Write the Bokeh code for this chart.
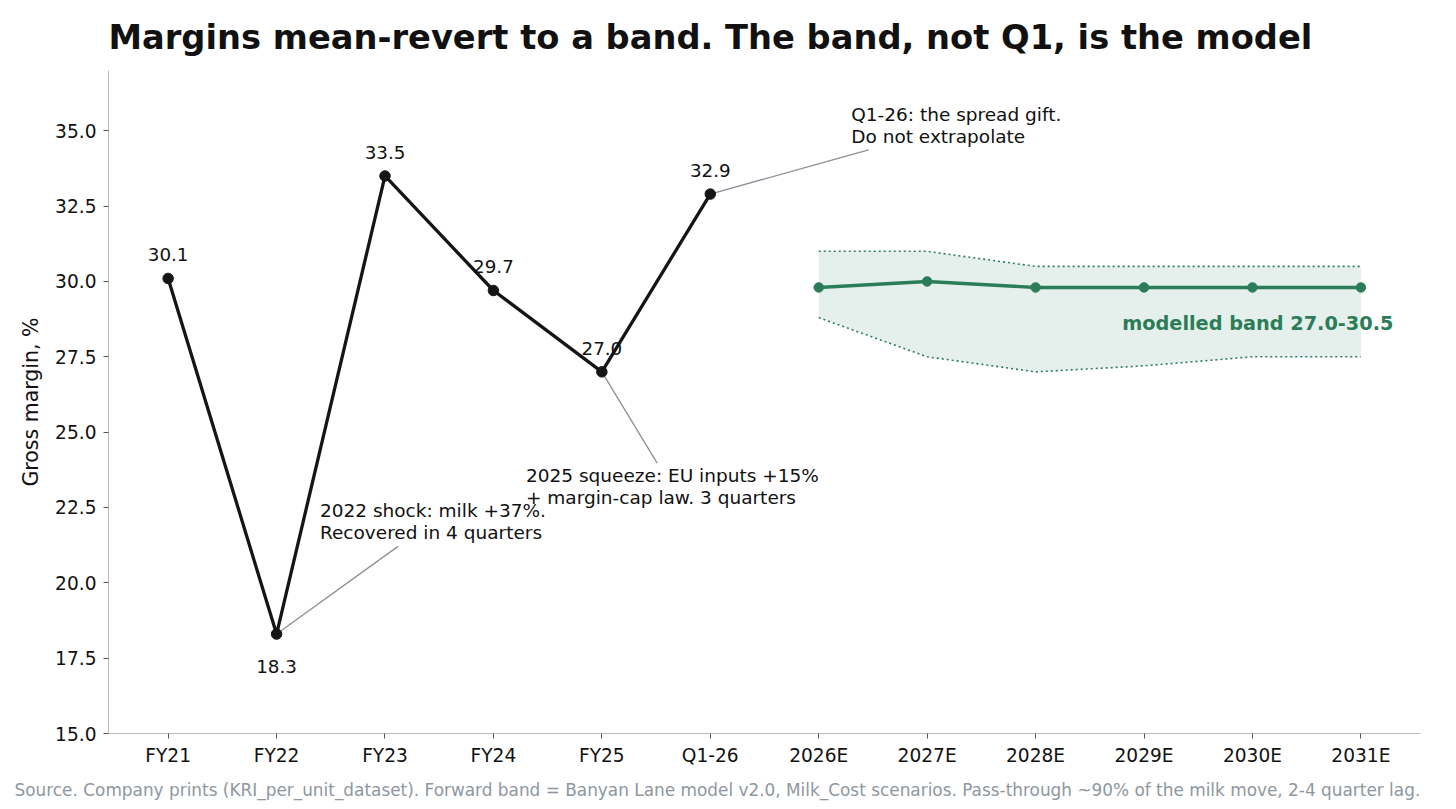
from bokeh.plotting import figure
from bokeh.models import ColumnDataSource, FixedTicker, Range1d, NumeralTickFormatter, Title
from bokeh.embed import file_html
from bokeh.resources import INLINE
from bokeh.core.properties import value

# ---- data ----
categories = ["FY21", "FY22", "FY23", "FY24", "FY25", "Q1-26",
              "2026E", "2027E", "2028E", "2029E", "2030E", "2031E"]
hist_labels = ["FY21", "FY22", "FY23", "FY24", "FY25", "Q1-26"]
hist_values = [30.1, 18.3, 33.5, 29.7, 27.0, 32.9]
fwd_labels = ["2026E", "2027E", "2028E", "2029E", "2030E", "2031E"]
fwd_mid = [29.8, 30.0, 29.8, 29.8, 29.8, 29.8]
fwd_low = [28.8, 27.5, 27.0, 27.2, 27.5, 27.5]
fwd_high = [31.0, 31.0, 30.5, 30.5, 30.5, 30.5]
y_ticks = [15.0, 17.5, 20.0, 22.5, 25.0, 27.5, 30.0, 32.5, 35.0]

title_text = "Margins mean-revert to a band. The band, not Q1, is the model"
source_text = ("Source. Company prints (KRI_per_unit_dataset). Forward band = Banyan Lane model v2.0, "
               "Milk_Cost scenarios. Pass-through ~90% of the milk move, 2-4 quarter lag.")
band_text = "modelled band 27.0-30.5"
notes = [
    ("Q1-26", "Q1-26: the spread gift.\nDo not extrapolate"),
    ("FY25", "2025 squeeze: EU inputs +15%\n+ margin-cap law. 3 quarters"),
    ("FY22", "2022 shock: milk +37%.\nRecovered in 4 quarters"),
]

FONT = "DejaVu Sans"
BLACK = "#151515"
GREEN = "#2b7d57"
GREY = "#8a9097"
FS = "18.6px"

idx = {c: i for i, c in enumerate(categories)}
hx = [idx[c] for c in hist_labels]
fx = [idx[c] for c in fwd_labels]

p = figure(width=1440, height=809, output_backend="svg", toolbar_location=None,
           x_range=Range1d(-0.55, len(categories) - 1 + 0.55), y_range=Range1d(15, 37),
           min_border_left=108, min_border_right=20, min_border_top=70, min_border_bottom=76)
p.outline_line_color = None
p.xgrid.visible = False
p.ygrid.visible = False
p.background_fill_color = "white"
p.border_fill_color = "white"

# title
p.title.text = title_text
p.title.text_font = FONT
p.title.text_font_size = "33.7px"
p.title.text_font_style = "bold"
p.title.text_color = "#111111"
p.title.align = "left"
p.title.standoff = 27

# footnote
foot = Title(text=source_text, align="left", text_font=FONT, text_font_size="16.9px",
             text_font_style="normal", text_color="#8e979f", offset=-94, standoff=18)
p.add_layout(foot, "below")

# axes
xa = p.xaxis[0]
xa.ticker = FixedTicker(ticks=list(range(len(categories))))
xa.major_label_overrides = {i: c for i, c in enumerate(categories)}
ya = p.yaxis[0]
ya.ticker = FixedTicker(ticks=y_ticks)
ya.formatter = NumeralTickFormatter(format="0.0")
ya.axis_label = "Gross margin, %"
for ax in (xa, ya):
    ax.axis_line_color = "#bbbbbb"
    ax.axis_line_width = 1
    ax.major_tick_line_color = "#555555"
    ax.major_tick_in = 0
    ax.major_tick_out = 5
    ax.minor_tick_line_color = None
    ax.major_label_text_font = FONT
    ax.major_label_text_font_size = FS
    ax.major_label_text_color = "#111111"
    ax.axis_label_text_font = FONT
    ax.axis_label_text_font_size = "20.5px"
    ax.axis_label_text_font_style = "normal"
    ax.axis_label_text_color = "#111111"
xa.major_label_standoff = 6
ya.major_label_standoff = 7
ya.axis_label_standoff = 9

# forward band
bsrc = ColumnDataSource(dict(x=fx, low=fwd_low, high=fwd_high, mid=fwd_mid))
p.varea(x="x", y1="low", y2="high", source=bsrc, fill_color=GREEN, fill_alpha=0.12)
p.line(x="x", y="high", source=bsrc, line_color=GREEN, line_width=1.6, line_dash="2 3")
p.line(x="x", y="low", source=bsrc, line_color=GREEN, line_width=1.6, line_dash="2 3")
p.line(x="x", y="mid", source=bsrc, line_color=GREEN, line_width=3.4)
p.scatter(x="x", y="mid", source=bsrc, size=9.5, fill_color=GREEN, line_color=GREEN)
p.text(x=[fx[-1] + 0.3], y=[28.62], text=[band_text], text_font=value(FONT),
       text_font_size="19.3px", text_font_style="bold", text_color=GREEN,
       text_align="right", text_baseline="middle")

# annotations
ann_pos = {"Q1-26": (6.30, 34.47, "bottom", 6.46, 34.37),
           "FY25": (3.30, 23.9, "top", 4.51, 23.97),
           "FY22": (1.40, 22.74, "top", 2.12, 21.21)}
for key, txt in notes:
    tx, ty, tb, lx, ly = ann_pos[key]
    i = idx[key]
    v = hist_values[hist_labels.index(key)]
    p.line(x=[i, lx], y=[v, ly], line_color=GREY, line_width=1.3)
    p.text(x=[tx], y=[ty], text=[txt], text_font=value(FONT), text_font_size="18.5px",
           text_color="#111111", text_align="left", text_baseline=tb, text_line_height=1.02)

# history
hsrc = ColumnDataSource(dict(x=hx, y=hist_values))
p.line(x="x", y="y", source=hsrc, line_color=BLACK, line_width=3.3)
p.scatter(x="x", y="y", source=hsrc, size=10.5, fill_color=BLACK, line_color=BLACK)

up_x = [x for x, v in zip(hx, hist_values) if v > 20]
up_v = [v for v in hist_values if v > 20]
dn_x = [x for x, v in zip(hx, hist_values) if v <= 20]
dn_v = [v for v in hist_values if v <= 20]
p.text(x=up_x, y=up_v, text=[f"{v:.1f}" for v in up_v], text_font=value(FONT),
       text_font_size="18.3px", text_color="#111111", text_align="center",
       text_baseline="bottom", y_offset=-17)
p.text(x=dn_x, y=dn_v, text=[f"{v:.1f}" for v in dn_v], text_font=value(FONT),
       text_font_size="18.3px", text_color="#111111", text_align="center",
       text_baseline="top", y_offset=26)

open("out.html", "w").write(file_html(p, INLINE))
